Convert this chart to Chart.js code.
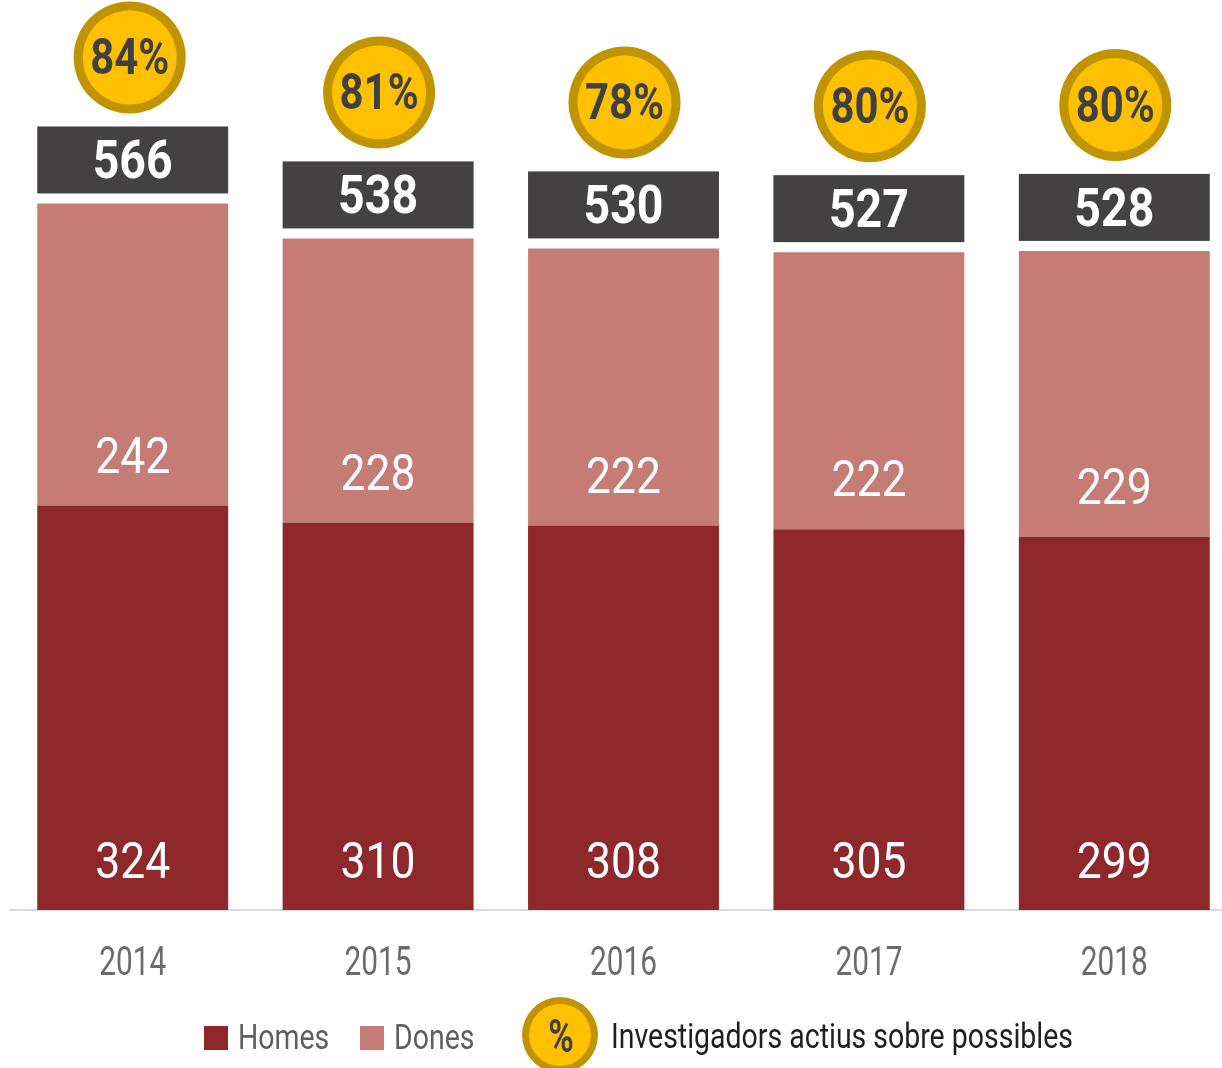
<!DOCTYPE html>
<html>
<head>
<meta charset="utf-8">
<script src="https://cdn.jsdelivr.net/npm/chart.js@4.4.1/dist/chart.umd.min.js"></script>
<style>
  html, body { margin: 0; padding: 0; background: #fff; overflow: hidden; }
  #wrap { width: 1247px; height: 1068px; }
</style>
</head>
<body>
<div id="wrap"><canvas id="chart"></canvas></div>
<script>
const years = ['2014', '2015', '2016', '2017', '2018'];
const homes = [324, 310, 308, 305, 299];
const dones = [242, 228, 222, 222, 229];
const totals = [566, 538, 530, 527, 528];
const activePct = [84, 81, 78, 80, 80];

const FONT = 'Roboto, "DejaVu Sans", sans-serif';
const RED = '#8e282b';
const PINK = '#c47c74';
const DARK = '#434142';
const GOLD = '#ffc000';
const GOLD_RING = '#c09300';

// the original uses a condensed face, so text is squeezed horizontally
function squeeze(ctx, font, sample, width) {
    ctx.font = font;
    return width / ctx.measureText(sample).width;
}

function narrowText(ctx, text, x, y, sx, align) {
    ctx.save();
    ctx.translate(x, y);
    ctx.scale(sx, 1);
    ctx.textAlign = align || 'center';
    ctx.textBaseline = 'alphabetic';
    ctx.fillText(text, 0, 0);
    ctx.restore();
}

function drawBadge(ctx, cx, cy, r, ring) {
    ctx.beginPath();
    ctx.arc(cx, cy, r, 0, Math.PI * 2);
    ctx.fillStyle = GOLD_RING;
    ctx.fill();
    ctx.beginPath();
    ctx.arc(cx, cy, r - ring, 0, Math.PI * 2);
    ctx.fillStyle = GOLD;
    ctx.fill();
}

const labelsPlugin = {
    id: 'labels',
    afterDatasetsDraw(chart) {
        const ctx = chart.ctx;
        const homesMeta = chart.getDatasetMeta(0);
        const donesMeta = chart.getDatasetMeta(1);
        const xScale = chart.scales.x;
        ctx.save();

        const segFont = '50px ' + FONT;
        const segSx = squeeze(ctx, segFont, '324', 75);
        const totFont = 'bold 53px ' + FONT;
        const totSx = squeeze(ctx, totFont, '566', 80);
        const pctFont = 'bold 50px ' + FONT;
        const pctSx = squeeze(ctx, pctFont, '84%', 79);
        const yearFont = '41px ' + FONT;
        const yearSx = squeeze(ctx, yearFont, '2014', 67);

        years.forEach((y, i) => {
            const hb = homesMeta.data[i];
            const db = donesMeta.data[i];

            ctx.fillStyle = '#fff';
            ctx.font = segFont;
            narrowText(ctx, String(homes[i]), hb.x, hb.base - 32, segSx);
            narrowText(ctx, String(dones[i]), db.x, db.base - 33, segSx);

            // total box above the stack
            const w = db.width;
            const boxTop = db.y - 10 - 67;
            ctx.fillStyle = DARK;
            ctx.fillRect(db.x - w / 2, boxTop, w, 67);
            ctx.fillStyle = '#fff';
            ctx.font = totFont;
            narrowText(ctx, String(totals[i]), db.x, boxTop + 52, totSx);

            // share of active researchers
            const cx = db.x + (i === 0 ? -3 : 1);
            const cy = boxTop - 69;
            drawBadge(ctx, cx, cy, 56, 9);
            ctx.fillStyle = '#404040';
            ctx.font = pctFont;
            narrowText(ctx, activePct[i] + '%', cx, cy + 17, pctSx);

            // year labels under the axis
            ctx.fillStyle = '#6b6b6b';
            ctx.font = yearFont;
            narrowText(ctx, y, xScale.getPixelForValue(i), 975, yearSx);
        });
        ctx.restore();
    },
    afterDraw(chart) {
        const ctx = chart.ctx;
        const base = 1049;
        ctx.save();
        const legFont = '35px ' + FONT;
        const legSx = squeeze(ctx, legFont, 'Investigadors actius sobre possibles', 462);
        ctx.font = legFont;

        ctx.fillStyle = RED;
        ctx.fillRect(204, 1026, 24, 24);
        ctx.fillStyle = '#5f5f5f';
        narrowText(ctx, 'Homes', 238, base, legSx, 'left');

        ctx.fillStyle = PINK;
        ctx.fillRect(360, 1026, 24, 24);
        ctx.fillStyle = '#5f5f5f';
        narrowText(ctx, 'Dones', 394, base, legSx, 'left');

        drawBadge(ctx, 560, 1035, 38, 7);
        ctx.fillStyle = '#404040';
        ctx.font = 'bold 46px ' + FONT;
        narrowText(ctx, '%', 561, 1052, 0.75);

        ctx.fillStyle = '#1f1f1f';
        ctx.font = legFont;
        narrowText(ctx, 'Investigadors actius sobre possibles', 611, base - 1, legSx, 'left');
        ctx.restore();
    }
};

new Chart(document.getElementById('chart'), {
    type: 'bar',
    data: {
        labels: years,
        datasets: [
            { label: 'Homes', data: homes, backgroundColor: RED },
            { label: 'Dones', data: dones, backgroundColor: PINK }
        ]
    },
    options: {
        responsive: true,
        maintainAspectRatio: false,
        animation: false,
        layout: { padding: { left: 10, right: 10, top: 0, bottom: 0 } },
        datasets: { bar: { barPercentage: 0.778, categoryPercentage: 1 } },
        plugins: {
            legend: { display: false },
            tooltip: { enabled: false }
        },
        scales: {
            x: {
                stacked: true,
                grid: { display: false, drawTicks: false },
                border: { display: true, color: '#d9d9d9', width: 2 },
                ticks: { display: false },
                afterFit(scale) { scale.height = 158; }
            },
            y: {
                stacked: true,
                display: false,
                min: 0,
                max: 729
            }
        }
    },
    plugins: [labelsPlugin]
});
</script>
</body>
</html>
